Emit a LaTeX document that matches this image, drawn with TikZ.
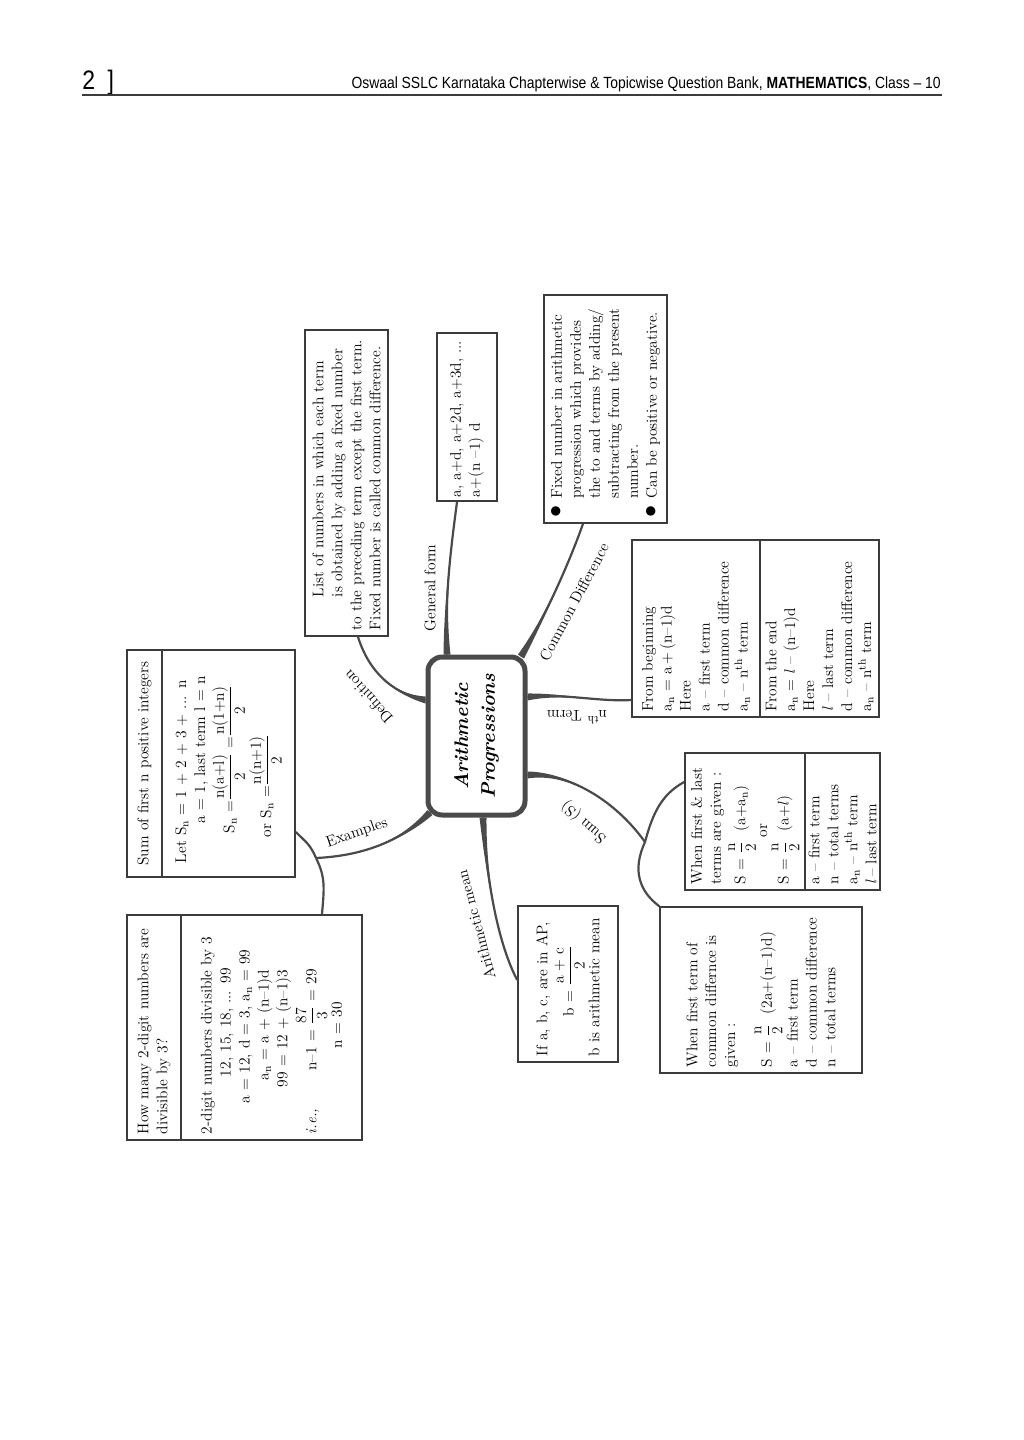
\documentclass[tikz,border=0pt]{standalone}
\usepackage{fontspec}
\usepackage{amsmath}
\usetikzlibrary{calc}
\newfontfamily\hdrfont{Liberation Sans}[FakeStretch=0.86]
\newlength\pu
\setlength\pu{0.025cm}
\definecolor{boxgrey}{HTML}{3C3C3C}
\definecolor{brgrey}{HTML}{4A4A4A}
\newcommand{\sbn}{\textsubscript{n}}
\newcommand{\thx}{\textsuperscript{th}}
\newcommand{\frc}[2]{$\dfrac{\mbox{#1}}{\mbox{#2}}$}
\newcommand{\blt}{\makebox[1.2em][l]{\LARGE$\bullet$}}
\newcommand{\mmfont}{\fontsize{11}{13.5}\selectfont\lineskiplimit=2pt\lineskip=3pt}
% tapered branch: start, control 1 (rel. start), control 2 (rel. end), end, half width at start
\newcommand{\taper}[5]{%
  \fill[brgrey] ($(#1)+(#5)$) .. controls ($(#1)+(#2)$) and ($(#4)+(#3)$) .. (#4)
    .. controls ($(#4)+(#3)$) and ($(#1)+(#2)$) .. ($(#1)-(#5)$) -- cycle;
  \draw[branch] (#1) .. controls +(#2) and +(#3) .. (#4);}

\begin{document}
\begin{tikzpicture}[
  x=1\pu, y=-1\pu,
  mmbox/.style n args={3}{draw=boxgrey, line width=1.6\pu, rotate=90, inner xsep=6\pu, inner ysep=0pt,
    minimum width=#1\pu, minimum height=#2\pu, text width=#3\pu, align=left, font=\mmfont},
  hub/.style={draw=brgrey, line width=5\pu, rounded corners=14\pu, rotate=90, minimum width=158\pu,
    minimum height=97\pu, align=center, font=\fontsize{14}{19}\selectfont\bfseries\itshape},
  branch/.style={draw=brgrey, line width=2.2\pu},
  twig/.style={draw=brgrey, line width=2.2\pu},
  blabel/.style={font=\mmfont, inner sep=1pt}
]
\useasboundingbox (0,0) rectangle (1024,1440);

% Page header
\node[font=\hdrfont\fontsize{19}{19}\selectfont, anchor=base west, inner sep=0pt] (pgno) at (82,89) {2\hspace{9pt}]};
\node[font=\hdrfont\fontsize{11.5}{12}\selectfont, anchor=base east, inner sep=0pt] (hdr) at (941,88)
  {Oswaal SSLC Karnataka Chapterwise \& Topicwise Question Bank, \textbf{MATHEMATICS}, Class – 10};
\draw[boxgrey, line width=1.5\pu] (82,95) -- (942,95);

% Centre
\node[hub] (hub) at (476.5,736) {Arithmetic\\Progressions};

% Upper boxes
\node[mmbox={306}{83}{294}] (defn) at (346.5,483)
  {\hspace*{33\pu}List of numbers in which each term\\
   \hspace*{33\pu}is obtained by adding a fixed number\\
   to the preceding term except the first term.\\
   Fixed number is called common difference.};
\node[mmbox={168}{60}{160}, inner xsep=4\pu] (gform) at (467,417)
  {a, a+d, a+2d, a+3d, ...\\ a+(n –1) d};
\node[mmbox={228}{123}{216}] (cdiff) at (605.5,409)
  {\blt Fixed number in arithmetic\\
   \hspace*{1.2em}progression which provides\\
   \hspace*{1.2em}the to and terms by adding/\\
   \hspace*{1.2em}subtracting from the present\\
   \hspace*{1.2em}number.\\
   \blt Can be positive or negative.};

% n-th term
\node[mmbox={177}{128}{165}] (nthb) at (696,628.5)
  {From beginning\\ a\sbn{} = a\,+\,(n–1)d\\ Here\\ a – first term\\ d – common difference\\ a\sbn{} – n\thx{} term};
\node[mmbox={177}{119}{165}] (nthe) at (819.5,628.5)
  {From the end\\ a\sbn{} = \textit{l} – (n–1)d\\ Here\\ \textit{l} – last term\\ d – common difference\\ a\sbn{} – n\thx{} term};

% Sum
\node[mmbox={137}{120}{125}] (sfl) at (745,821.5)
  {When first \& last\\ terms are given :\\ S = \frc{n}{2}\ \ (a+a\sbn)\\ \hspace*{47\pu}or\\ S = \frc{n}{2}\ \ (a+\textit{l})};
\node[mmbox={137}{75}{125}] (sflk) at (842.5,821.5)
  {a – first term\\ n – total terms\\ a\sbn{} – n\thx{} term\\ \textit{l}\,– last term};
\node[mmbox={166}{202}{154}] (sfd) at (761,990)
  {When first term of\\ common differnce is\\ given :\\[12\pu]
   S = \frc{n}{2}\ \ (2a+(n–1)d)\\ a – first term\\ d – common difference\\ n – total terms};

% Arithmetic mean
\node[mmbox={156}{100}{144}] (amean) at (568,984)
  {If a, b, c, are in AP,\\ \hspace*{40\pu}b = \frc{a + c}{2}\\ b is arithmetic mean};

% Examples
\node[mmbox={227}{35}{215}, align=center] (sumh) at (144.5,763.5) {Sum of first n positive integers};
\node[mmbox={227}{133}{215}] (sumb) at (228.5,763.5)
  {\hspace*{8\pu}Let S\sbn{} = 1 + 2 + 3 + ... n\\ \hspace*{48\pu}a = 1, last term l = n\\
   \hspace*{38\pu}S\sbn{} =\frc{n(a+l)}{2} =\frc{n(1+n)}{2}\\ \hspace*{34\pu}or S\sbn{} =\frc{n(n+1)}{2}};
\node[mmbox={225}{54}{213}] (howh) at (154,1027.5) {How many 2-digit numbers are\\ divisible by 3?};
\node[mmbox={225}{181}{213}] (howb) at (271.5,1027.5)
  {2-digit numbers divisible by 3\\ \hspace*{57\pu}12, 15, 18, ... 99\\ \hspace*{31\pu}a = 12, d = 3, a\sbn{} = 99\\
   \hspace*{54\pu}a\sbn{} = a + (n–1)d\\ \hspace*{47\pu}99 = 12 + (n–1)3\\
   \textit{i.e.,}\hspace*{38\pu}n–1 = \frc{87}{3} = 29\\ \hspace*{86\pu}n = 30};

% End points of the branches
\coordinate (defA) at ($(hub.north)+(0,-36)$);
\coordinate (defB) at ($(defn.west)+(11.5,0)$);
\coordinate (gfA) at ($(hub.east)+(-29.5,0)$);
\coordinate (gfB) at ($(gform.west)+(-10,0)$);
\coordinate (cdA) at ($(hub.east)+(44.5,2)$);
\coordinate (cdB) at ($(cdiff.west)+(-22.5,0)$);
\coordinate (nthA) at ($(hub.south)+(0,-39)$);
\coordinate (nthB) at ($(nthb.north)+(0,71.5)$);
\coordinate (sumA) at ($(hub.south)+(0,39)$);
\coordinate (sumj) at (645,842);
\coordinate (exA) at ($(hub.west)+(-46.5,-5)$);
\coordinate (exj) at (316,858);
\coordinate (amA) at ($(hub.west)+(6.5,0)$);
\coordinate (amB) at ($(amean.north)+(0,-4)$);

% Branches from the centre
\taper{defA}{-28,-5}{12,39}{defB}{0,3.5}
\taper{gfA}{-3,-57}{-5,39}{gfB}{3.5,0}
\taper{cdA}{24,-39}{-13,37}{cdB}{3,2}
\taper{nthA}{35,-4}{-32,2}{nthB}{0,3.5}
\taper{sumA}{40,-3}{-30,-42}{sumj}{0,3.5}
\taper{exA}{-30,30}{44,-2}{exj}{2.5,2.5}
\taper{amA}{3,55}{-21,-40}{amB}{3.5,0}

% Sub-branches
\draw[twig] ($(sfl.north)+(0,-39.5)$) .. controls +(-22,12) and +(8,-30) .. (sumj);
\draw[twig] (sumj) .. controls +(-13,28) and +(-20,-15) .. (sfd.north east);
\draw[twig] ($(sumb.south)+(0,68.5)$) .. controls +(10,10) and +(-6,-14) .. (exj);
\draw[twig] (exj) .. controls +(10,20) and +(2,-25) .. ($(howb.east)+(50.5,0)$);

% Branch labels
\node[blabel, rotate=132] (ldef) at (368,697) {Definition};
\node[blabel, rotate=90] (lgf) at (430,588) {General form};
\node[blabel, rotate=62] (lcd) at (574,602) {Common Difference};
\node[blabel, rotate=180] (lnth) at (577,717) {n\thx{} Term};
\node[blabel, rotate=138] (lsum) at (584,822) {Sum (S)};
\node[blabel, rotate=19] (lex) at (357,833) {Examples};
\node[blabel, rotate=105] (lam) at (476,925) {Arithmetic mean};

\end{tikzpicture}
\end{document}
